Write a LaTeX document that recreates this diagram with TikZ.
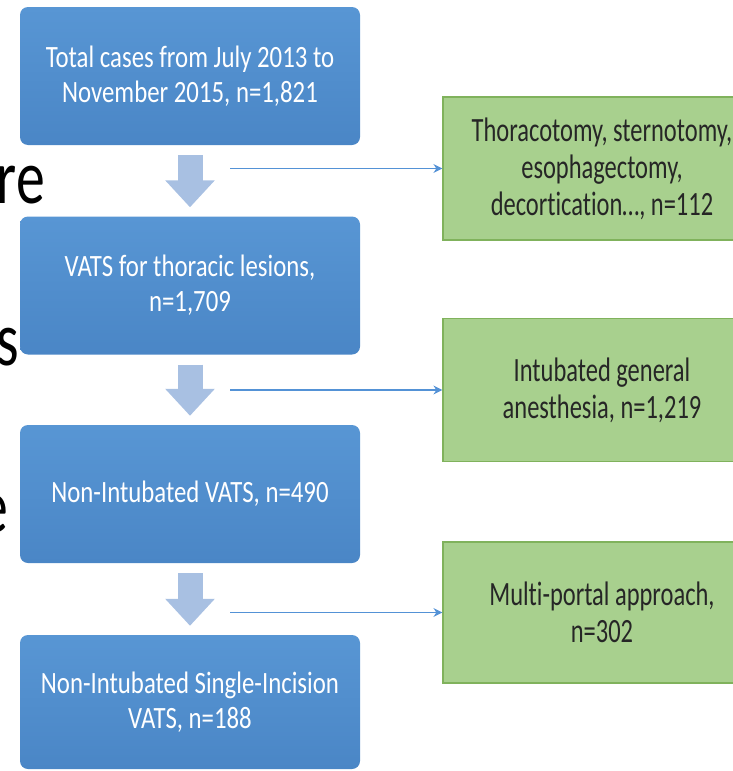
\documentclass[tikz,border=0pt]{standalone}
\usepackage{fontspec}
\usepackage{xcolor}
\usetikzlibrary{arrows.meta}
\newfontfamily\boxfont[FakeStretch=0.8,Ligatures=NoCommon]{Carlito}
\newfontfamily\sidefont[FakeStretch=0.72,Ligatures=NoCommon]{Carlito}
\newfontfamily\slidefont[FakeStretch=0.75]{Carlito}
\definecolor{boxblue}{RGB}{74,134,198}
\definecolor{boxbluetop}{RGB}{88,150,212}
\definecolor{sidegreen}{RGB}{168,208,142}
\definecolor{sideedge}{RGB}{128,178,92}
\definecolor{flowblue}{RGB}{168,192,226}
\definecolor{lineblue}{RGB}{84,146,214}
\begin{document}
\begin{tikzpicture}[x=1pt,y=-1pt,
bluebox/.style={rounded corners=8pt,top color=boxbluetop,bottom color=boxblue,minimum width=340pt,minimum height=138pt,text=white,align=center,font=\boxfont\fontsize{31}{35}\selectfont},
sidebox/.style={fill=sidegreen,draw=sideedge,line width=1.2pt,minimum width=318pt,minimum height=143pt,text=black!85,align=center,font=\sidefont\fontsize{34}{37}\selectfont},
slidetxt/.style={inner sep=0pt,anchor=base east,font=\slidefont\fontsize{77}{80}\selectfont},
flowarr/.style={draw=flowblue,line width=25pt,-{Triangle[width=48pt,length=27pt]},shorten <=10pt,shorten >=9pt},
thinarr/.style={draw=lineblue,line width=1.4pt,-{Stealth[length=9pt,width=9pt]}}]
\useasboundingbox (0,0) rectangle (733,771);
\clip (0,0) rectangle (733,771);
\node[slidetxt] (bgre) at (45,203) {re};
\node[slidetxt] (bgs) at (19,365) {s};
\node[slidetxt] (bge) at (8,532) {e};
\node[bluebox] (tot) at (190,76) {Total cases from July 2013 to\\November 2015, n=1,821};
\node[bluebox] (vats) at (190,285.5) {VATS for thoracic lesions,\\n=1,709};
\node[bluebox] (nivats) at (190,494) {Non-Intubated VATS, n=490};
\node[bluebox,minimum height=134pt] (nisi) at (190,702) {Non-Intubated Single-Incision\\VATS, n=188};
\node[sidebox] (thor) at (602,168.5) {Thoracotomy, sternotomy,\\esophagectomy,\\decortication…, n=112};
\node[sidebox] (intub) at (602,390) {Intubated general\\anesthesia, n=1,219};
\node[sidebox,minimum height=141pt] (multi) at (602,612.5) {Multi-portal approach,\\n=302};
\draw[flowarr](tot)--(vats);
\draw[flowarr](vats)--(nivats);
\draw[flowarr](nivats)--(nisi);
\coordinate (c1) at (230,168.5);
\coordinate (c2) at (230,390);
\coordinate (c3) at (230,612.5);
\draw[thinarr](c1)--(thor);
\draw[thinarr](c2)--(intub);
\draw[thinarr](c3)--(multi);
\end{tikzpicture}
\end{document}
